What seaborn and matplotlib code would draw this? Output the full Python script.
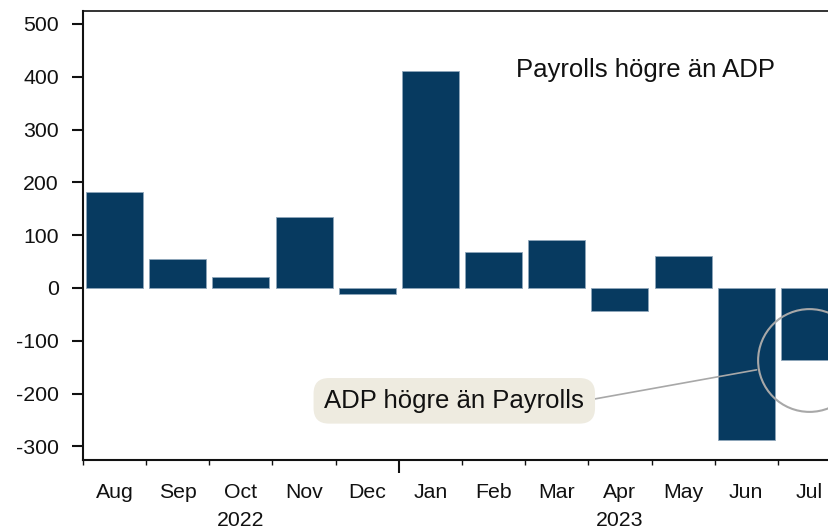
import numpy as np
import pandas as pd
import matplotlib
matplotlib.use("Agg")
import matplotlib.pyplot as plt
import seaborn as sns

# ---- data ----
months = ["Aug", "Sep", "Oct", "Nov", "Dec", "Jan", "Feb", "Mar", "Apr", "May", "Jun", "Jul"]
values = [182, 55, 21, 135, -12, 411, 68, 91, -43, 61, -288, -137]
years = ["2022", "2023"]
year_label_months = ["Oct", "Apr"]
year_boundary_month = "Jan"
yticks = [-300, -200, -100, 0, 100, 200, 300, 400, 500]
text_pos = "Payrolls högre än ADP"
text_neg = "ADP högre än Payrolls"

sns.set_theme(style="white")
plt.rcParams["font.family"] = ["Liberation Sans", "DejaVu Sans"]
plt.rcParams["axes.unicode_minus"] = False

df = pd.DataFrame({"month": months, "value": values})

fig = plt.figure(figsize=(8.29, 5.29), dpi=100)
ax = fig.add_axes([83 / 829, 69 / 529, 758 / 829, 449 / 529])

sns.barplot(data=df, x="month", y="value", order=months, color="#073A60",
            saturation=1, width=0.9, edgecolor="#8fa6ba", linewidth=0.6, ax=ax)

ax.set_xlim(-0.5, len(months) - 0.5)
ax.set_ylim(-325.8, 524.6)
ax.set_xlabel("")
ax.set_ylabel("")

txt_color = "#111111"
fs_tick = 15.3
fs_ann = 18.5

# y axis
ax.set_yticks(yticks)
ax.set_yticklabels([str(v) for v in yticks])
ax.tick_params(axis="y", which="major", direction="out", length=8, width=1.5,
               pad=9.5, labelsize=fs_tick, labelcolor=txt_color, left=True, color="#111111")

# x axis: boundaries as major ticks, month labels as minor ticks
n = len(months)
ax.set_xticks(np.arange(-0.5, n, 1.0))
ax.set_xticklabels([""] * (n + 1))
ax.set_xticks(np.arange(n), minor=True)
ax.set_xticklabels(months, minor=True)
ax.tick_params(axis="x", which="major", direction="out", length=3.6, width=1, color="#111111", bottom=True)
ax.tick_params(axis="x", which="minor", length=0, pad=16.5, labelsize=fs_tick, labelcolor=txt_color, bottom=True)
bidx = months.index(year_boundary_month)
mt = ax.xaxis.get_major_ticks()[bidx]
mt.tick1line.set_markersize(9)
mt.tick1line.set_markeredgewidth(1.5)

# year labels
sec = ax.secondary_xaxis("bottom")
sec.set_xticks([months.index(m) for m in year_label_months])
sec.set_xticklabels(years)
sec.tick_params(axis="x", length=0, pad=36.5, labelsize=fs_tick, labelcolor=txt_color)
sec.spines["bottom"].set_visible(False)

for s in ["left", "top", "bottom"]:
    ax.spines[s].set_visible(True)
    ax.spines[s].set_color("#111111")
    ax.spines[s].set_linewidth(1.5)
ax.spines["top"].set_linewidth(1.2)
ax.spines["right"].set_visible(False)

# annotations
ax.text(8.41, 399.6, text_pos, ha="center", va="baseline", fontsize=fs_ann, color=txt_color)

jul = months.index("Jul")
ax.plot([jul], [values[jul]], marker="o", ms=74, mfc="none", mec="#A8A8A8", mew=1.5,
        clip_on=False, zorder=5)

ax.annotate(text_neg, xy=(10.165, -155), xytext=(5.378, -227),
            ha="center", va="baseline", fontsize=fs_ann, color=txt_color,
            bbox=dict(boxstyle="round,pad=0.42,rounding_size=0.6", fc="#EEEBE0", ec="none"),
            arrowprops=dict(arrowstyle="-", color="#A8A8A8", lw=1.2, shrinkA=0, shrinkB=0,
                            relpos=(1.0, 0.5)),
            zorder=6)

fig.savefig("out.png", dpi=100)
